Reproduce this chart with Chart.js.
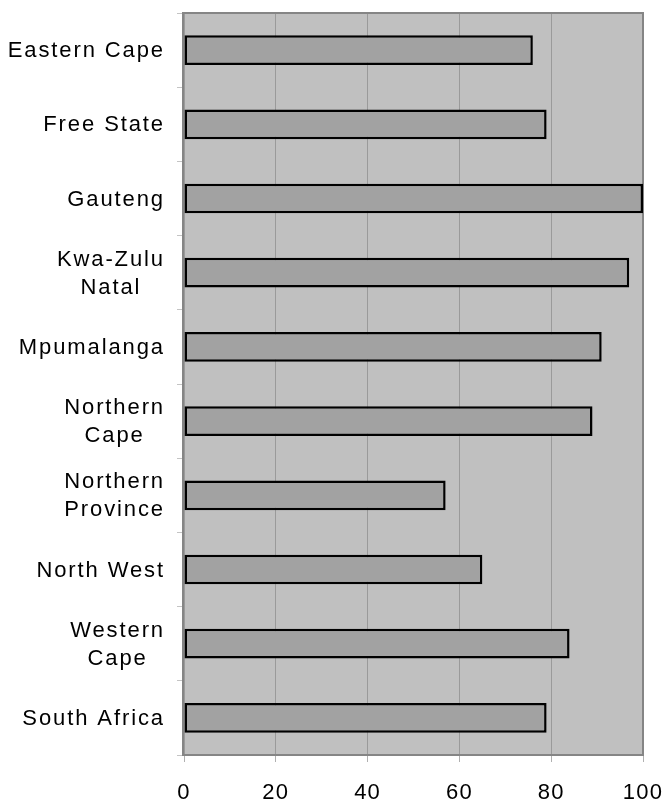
<!DOCTYPE html>
<html>
<head>
<meta charset="utf-8">
<script src="https://cdn.jsdelivr.net/npm/chart.js@4/dist/chart.umd.min.js"></script>
<style>
  html, body { margin: 0; padding: 0; background: #fff; }
  canvas { display: block; }
</style>
</head>
<body>
<canvas id="provinces" width="666" height="799"></canvas>
<script>
// Provinces, top to bottom; multi-line names are split into arrays
const provinces = [
  'Eastern Cape',
  'Free State',
  'Gauteng',
  ['Kwa-Zulu', 'Natal'],
  'Mpumalanga',
  ['Northern', 'Cape'],
  ['Northern', 'Province'],
  'North West',
  ['Western', 'Cape'],
  'South Africa'
]
const percentages = [76, 79, 100, 97, 91, 89, 57, 65, 84, 79]
const xTicks = [0, 20, 40, 60, 80, 100]

const fontFamily = '"Liberation Sans", Arial, Helvetica, sans-serif'

// grey plot background plus the thin frame round it
const plotFrame = {
  id: 'plotFrame',
  beforeDraw(chart) {
    const { ctx, chartArea: a } = chart
    ctx.save()
    ctx.fillStyle = '#c0c0c0'
    ctx.fillRect(a.left, a.top, a.right - a.left, a.bottom - a.top)
    ctx.restore()
    ctx.letterSpacing = '1.2px'
  },
  beforeDatasetsDraw(chart) {
    const { ctx, chartArea: a } = chart
    ctx.save()
    ctx.strokeStyle = '#858585'
    ctx.lineWidth = 2
    ctx.strokeRect(a.left - 1, a.top, a.right - a.left + 1, a.bottom - a.top)
    ctx.restore()
  }
}

// category names: right-aligned block, lines centred within it
const provinceLabels = {
  id: 'provinceLabels',
  afterDraw(chart) {
    const { ctx } = chart
    const yScale = chart.scales.y
    const right = 164
    const lineHeight = 28
    ctx.save()
    ctx.font = '22px ' + fontFamily
    ctx.letterSpacing = '1.9px'
    ctx.fillStyle = '#000'
    ctx.textAlign = 'center'
    ctx.textBaseline = 'middle'
    provinces.forEach((name, i) => {
      const lines = Array.isArray(name) ? name : [name]
      const width = Math.max(...lines.map(l => ctx.measureText(l).width))
      const cx = right - width / 2
      const cy = yScale.getPixelForValue(i)
      lines.forEach((line, j) => {
        const y = cy + (j - (lines.length - 1) / 2) * lineHeight
        ctx.fillText(line, cx + 1, y + 1)
      })
    })
    ctx.restore()
  }
}

const chart = new Chart(document.getElementById('provinces'), {
  type: 'bar',
  data: {
    labels: provinces,
    datasets: [{
      data: percentages,
      backgroundColor: '#a2a2a2',
      borderColor: '#000',
      borderWidth: 2.5,
      borderSkipped: false,
      barPercentage: 0.4,
      categoryPercentage: 1
    }]
  },
  options: {
    indexAxis: 'y',
    responsive: false,
    devicePixelRatio: 1,
    animation: false,
    layout: { padding: { top: 13, right: 23, bottom: 0, left: 0 } },
    plugins: {
      legend: { display: false },
      tooltip: { enabled: false }
    },
    scales: {
      x: {
        min: 0,
        max: 100,
        afterBuildTicks(scale) {
          scale.ticks = xTicks.map(v => ({ value: v }))
        },
        afterFit(scale) {
          scale.height = 44
          scale.paddingLeft = 0
          scale.paddingRight = 0
        },
        border: { display: false },
        grid: {
          color: '#9a9a9a',
          lineWidth: 1,
          tickColor: '#b0b0b0',
          tickLength: 7
        },
        ticks: {
          color: '#000',
          padding: 18,
          maxRotation: 0,
          font: { family: fontFamily, size: 22 }
        }
      },
      y: {
        offset: true,
        afterFit(scale) { scale.width = 184 },
        border: { display: false },
        grid: {
          offset: true,
          drawOnChartArea: false,
          tickColor: '#c4c4c4',
          tickLength: 7
        },
        ticks: { display: false }
      }
    }
  },
  plugins: [plotFrame, provinceLabels]
})
</script>
</body>
</html>
